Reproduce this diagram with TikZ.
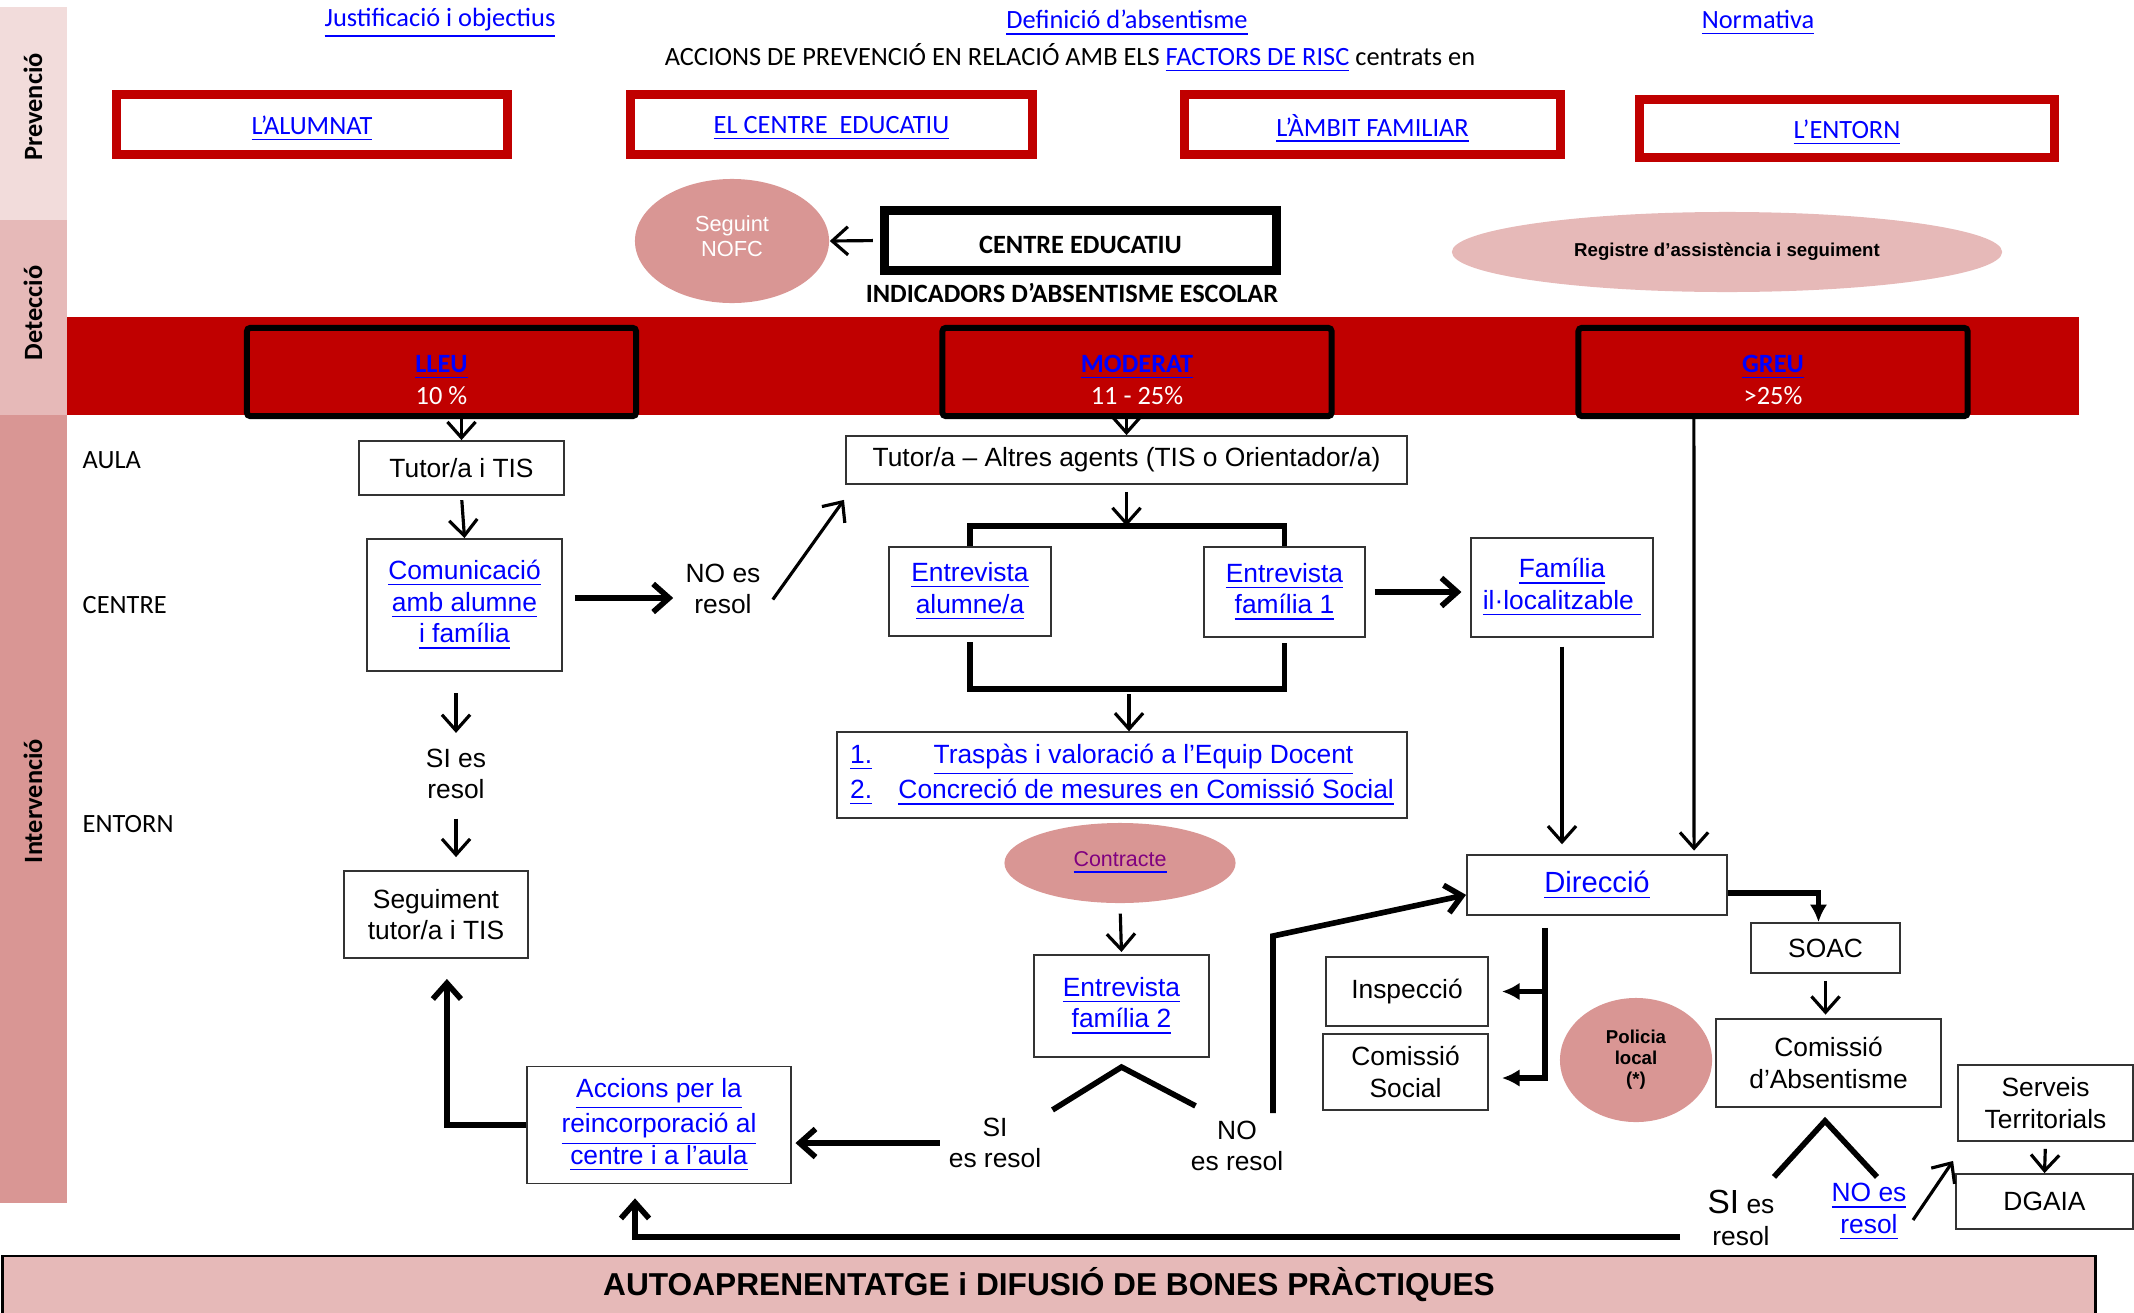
\documentclass[tikz,border=0pt]{standalone}
\usepackage{fontspec}
\setmainfont{Liberation Sans}
\newfontfamily\calibri{Carlito}
\usepackage{tikz}
\usetikzlibrary{shapes,arrows,arrows.meta}
\usetikzlibrary{positioning}
\definecolor{linkblue}{RGB}{0,0,255}
\definecolor{visited}{RGB}{128,0,128}
\definecolor{darkred}{RGB}{192,0,0}
\definecolor{prevpink}{RGB}{242,220,219}
\definecolor{detpink}{RGB}{230,185,184}
\definecolor{intpink}{RGB}{217,150,148}
\newcommand{\lnk}[1]{\textcolor{linkblue}{\underline{#1}}}
\newcommand{\dropby}[2]{\raisebox{-#1}[\height][\depth]{#2}}
\newcommand{\boxfont}{\fontsize{7.5}{9}\selectfont}
\newcommand{\calfont}{\calibri\fontsize{7.5}{9}\selectfont}
\tikzstyle{prevbox} = [draw=darkred, line width=2.6pt, fill=white, font=\calfont]
\tikzstyle{bigbox} = [draw=black, line width=2.6pt, fill=white, font=\calfont\bfseries]
\tikzstyle{grade} = [draw=black, line width=1.7pt, fill=darkred, rounded corners=1pt, align=center, text=white, font=\calfont]
\tikzstyle{block} = [draw=black!80, line width=0.5pt, fill=white, align=center, font=\boxfont]
\tikzstyle{blob} = [ellipse, fill=intpink, align=center, inner sep=0pt]
\tikzstyle{plain} = [align=center, font=\boxfont]
\tikzstyle{zone} = [anchor=west, inner sep=0pt, font=\calfont]
\tikzstyle{band} = [rotate=90, font=\calfont\bfseries]
\tikzstyle{line} = [draw, line width=0.9pt]
\tikzstyle{thickline} = [draw, line width=1.6pt]

\begin{document}
\begin{tikzpicture}[auto, x=0.01cm, y=-0.01cm, >={Straight Barb[length=4.5pt,width=8pt]}]
  \useasboundingbox (0,0) rectangle (2134,1312);
  \fill [prevpink] (0,7) rectangle (67,220);
  \fill [detpink] (0,220) rectangle (67,415);
  \fill [intpink] (0,415) rectangle (67,1203);
  \fill [darkred] (67,317) rectangle (2079,415);
  \node [band, name=prev] at (33,107) {Prevenció};
  \node [band, name=det] at (33,313) {Detecció};
  \node [band, name=interv] at (33,801) {Intervenció};

  \node [font=\calfont, name=justif] at (440,23) {\lnk{Justificació i objectius}};
  \node [font=\calfont, name=definicio] at (1127,23) {\lnk{Definició d’absentisme}};
  \node [font=\calfont, name=normativa] at (1758,23) {\lnk{Normativa}};
  \node [font=\calfont, name=factors] at (1070,58) {ACCIONS DE PREVENCIÓ EN RELACIÓ AMB ELS \lnk{FACTORS DE RISC} centrats en};

  \node [prevbox, minimum width=3.91cm, minimum height=0.6cm, name=alumnat] at (312,124.5) {\dropby{1.2pt}{\lnk{L’ALUMNAT}}};
  \node [prevbox, minimum width=4.02cm, minimum height=0.6cm, name=centre] at (831.5,124.5) {\dropby{1.2pt}{\lnk{EL CENTRE\ \ EDUCATIU}}};
  \node [prevbox, minimum width=3.76cm, minimum height=0.6cm, name=familiar] at (1372.5,124.5) {\dropby{1.2pt}{\lnk{L’ÀMBIT FAMILIAR}}};
  \node [prevbox, minimum width=4.15cm, minimum height=0.58cm, name=entorn] at (1847,128.5) {\dropby{1.2pt}{\lnk{L’ENTORN}}};

  \node [blob, text=white, font=\fontsize{6.2}{7}\selectfont, minimum width=1.94cm, minimum height=1.24cm, name=seguint] at (732,241) {Seguint\\NOFC\rule[-2.8pt]{0pt}{2.8pt}};
  \node [bigbox, minimum width=3.92cm, minimum height=0.6cm, name=centreedu] at (1080.5,240.5) {\dropby{1.4pt}{CENTRE EDUCATIU}};
  \node [font=\calfont\bfseries, name=indicadors] at (1072,293) {INDICADORS D’ABSENTISME ESCOLAR};
  \node [blob, fill=detpink, font=\fontsize{5.3}{6}\selectfont\bfseries, minimum width=5.5cm, minimum height=0.8cm, name=registre] at (1727,252) {Registre d’assistència i seguiment};

  \node [grade, minimum width=3.89cm, minimum height=0.76cm, name=lleu] at (441.5,372) {\rule{0pt}{9.4pt}\lnk{\bfseries LLEU}\\10 \%};
  \node [grade, minimum width=3.89cm, minimum height=0.76cm, name=moderat] at (1137,372) {\rule{0pt}{9.4pt}\lnk{\bfseries MODERAT}\\11 - 25\%};
  \node [grade, minimum width=3.89cm, minimum height=0.76cm, name=greu] at (1773,372) {\rule{0pt}{9.4pt}\lnk{\bfseries GREU}\\>25\%};

  \node [zone, name=aula] at (82,460) {AULA};
  \node [zone, name=centrezone] at (82,605) {CENTRE};
  \node [zone, name=entornzone] at (82,824) {ENTORN};

  \node [block, minimum width=2.05cm, minimum height=0.54cm, name=tutor1] at (461.5,468) {Tutor/a i TIS};
  \node [block, minimum width=1.95cm, minimum height=1.32cm, name=comunic] at (464.5,605) {\lnk{Comunicació}\\\lnk{amb alumne}\\\lnk{i família}};
  \node [plain, name=nores1] at (723,589) {NO es\\resol};
  \node [plain, name=sires1] at (456,774) {SI es\\resol};
  \node [block, minimum width=1.84cm, minimum height=0.87cm, name=seguiment] at (436,914.5) {Seguiment\\tutor/a i TIS};
  \node [block, minimum width=2.64cm, minimum height=1.14cm, name=reincorp] at (659,1125) {\lnk{Accions per la}\\\lnk{reincorporació al}\\\lnk{centre i a l’aula}};

  \node [block, minimum width=5.61cm, minimum height=0.46cm, name=tutor2] at (1126.5,460) {Tutor/a – Altres agents (TIS o Orientador/a)};
  \node [block, minimum width=1.62cm, minimum height=0.89cm, name=entalumne] at (970,591.5) {\lnk{Entrevista}\\\lnk{alumne/a}};
  \node [block, minimum width=1.61cm, minimum height=0.9cm, name=entfam1] at (1284.5,592) {\lnk{Entrevista}\\\lnk{família 1}};
  \node [block, minimum width=1.8cm, minimum height=0.99cm, name=illoc] at (1562,587.5) {\lnk{Família}\\\lnk{il·localitzable\ }};
  \node [block, align=left, font=\fontsize{7.5}{8.5}\selectfont, minimum width=5.7cm, minimum height=0.78cm, name=traspas] at (1122,775) {\lnk{1.}\hspace{17.5pt}\lnk{Traspàs i valoració a l’Equip Docent}\\\lnk{2.}\hspace{7.5pt}\lnk{Concreció de mesures en Comissió Social}};
  \node [blob, font=\fontsize{6.1}{7}\selectfont, minimum width=2.31cm, minimum height=0.8cm, name=contracte] at (1120,863) {\textcolor{linkblue}{\underline{\textcolor{visited}{Contracte}}}};
  \node [block, minimum width=1.75cm, minimum height=1.02cm, name=entfam2] at (1121.5,1006) {\lnk{Entrevista}\\\lnk{família 2}};
  \node [plain, name=sires2] at (995,1143) {SI\\es resol};
  \node [plain, name=nores2] at (1237,1146) {NO\\es resol};

  \node [block, font=\fontsize{8.3}{9}\selectfont, minimum width=2.6cm, minimum height=0.6cm, name=direccio] at (1597,885) {\lnk{Direcció}};
  \node [block, minimum width=1.49cm, minimum height=0.5cm, name=soac] at (1825.5,948) {SOAC};
  \node [block, minimum width=2.25cm, minimum height=0.88cm, name=comabs] at (1828.5,1063) {Comissió\\d’Absentisme};
  \node [block, minimum width=1.62cm, minimum height=0.69cm, name=inspeccio] at (1407,991.5) {Inspecció};
  \node [block, minimum width=1.65cm, minimum height=0.76cm, name=comsoc] at (1405.5,1072) {Comissió\\Social};
  \node [blob, font=\fontsize{5.3}{6}\selectfont\bfseries, minimum width=1.52cm, minimum height=1.24cm, name=policia] at (1636,1060) {Policia\\local\\(*)};
  \node [plain, name=sires3] at (1741,1218) {{\fontsize{9.5}{9}\selectfont SI} es\\resol};
  \node [plain, name=nores3] at (1869,1212) {\lnk{NO es}\\\lnk{resol}};
  \node [block, minimum width=1.75cm, minimum height=0.76cm, name=serveis] at (2045.5,1103) {Serveis\\Territorials};
  \node [block, minimum width=1.77cm, minimum height=0.55cm, name=dgaia] at (2044.5,1201.5) {DGAIA};

  \node [draw=black, line width=0.8pt, fill=detpink, minimum width=20.92cm, minimum height=0.58cm, font=\fontsize{9}{10}\selectfont\bfseries, name=banner] at (1049,1285) {AUTOAPRENENTATGE i DIFUSIÓ DE BONES PRÀCTIQUES};

  \coordinate (topbar) at (1129,526);
  \coordinate (lowbar) at (1129,689);

  \draw [line,->, shorten <=2pt] (centreedu.west) -- (seguint.east);
  \draw [line,->] (tutor1.north |- lleu.south) -- (tutor1.north);
  \draw [line,->, shorten <=1.2pt] (tutor1.south) -- (comunic.north);
  \draw [thickline,->, shorten <=3.4pt] ([yshift=2pt]comunic.east) -- ([yshift=2pt]comunic.east -| nores1.west);
  \draw [line,->] ([yshift=-3pt]nores1.east) -- ([shift={(-1,15)}]tutor2.south west);
  \draw [line,->, shorten <=6pt, shorten >=1pt] (sires1.north |- comunic.south) -- (sires1.north);
  \draw [line,->, shorten <=2pt, shorten >=3.7pt] (sires1.south) -- (sires1.south |- seguiment.north);
  \draw [thickline,->, shorten >=5.7pt] (reincorp.west) -| ([xshift=3.1pt]seguiment.south);

  \draw [line,->] (tutor2.north |- moderat.south) -- (tutor2.north);
  \draw [line,->, shorten <=2pt] (tutor2.south) -- (tutor2.south |- topbar);
  \draw [thickline] (entalumne.north) |- (topbar) -| (entfam1.north);
  \draw [thickline, shorten <=1.5pt, shorten >=1.5pt] (entalumne.south) |- (lowbar) -| (entfam1.south);
  \draw [line,->, shorten <=1.5pt] (lowbar) -- (lowbar |- traspas.north);
  \draw [thickline,->, shorten <=2.5pt, shorten >=2.5pt] (entfam1.east) -- (entfam1.east -| illoc.west);
  \draw [line,->, shorten <=2.5pt, shorten >=2.8pt] (illoc.south) -- (illoc.south |- direccio.north);
  \draw [line,->, shorten >=1pt] ([xshift=-22.5pt]greu.south) -- ([xshift=27.6pt]direccio.north);

  \draw [line,->, shorten <=2.8pt, shorten >=0.6pt] (contracte.south) -- (entfam2.north);
  \draw [thickline] ([shift={(-69,52)}]entfam2.south) -- ([yshift=-2.6pt]entfam2.south) -- ([shift={(74,48)}]entfam2.south);
  \draw [thickline,->] ([xshift=1pt]sires2.west) -- ([xshift=1pt]sires2.west -| reincorp.east);
  \draw [thickline,->] ([shift={(36,-33)}]nores2.center) -- ++(0,-177) -- ([yshift=-2.8pt]direccio.west);

  \draw [thickline,-{Latex[length=5pt,width=5pt]}] ([yshift=-2.3pt]direccio.east) -| ([xshift=-2pt]soac.north);
  \draw [thickline] ([shift={(-52,12)}]direccio.south) coordinate (spine) -- ++(0,153);
  \draw [thickline,-{Latex[length=5pt,width=5pt]}] (spine |- inspeccio.east) -- ([xshift=3.7pt]inspeccio.east);
  \draw [thickline,-{Latex[length=5pt,width=5pt]}] ([yshift=-1.7pt]spine |- comsoc.east) -- ([shift={(13,6)}]comsoc.east);
  \draw [line,->, shorten <=2pt, shorten >=1pt] (soac.south) -- (soac.south |- comabs.north);
  \draw [thickline] ([shift={(-54.5,69)}]comabs.south) -- ([shift={(-3.5,13)}]comabs.south) -- ([shift={(48.5,69)}]comabs.south);
  \draw [line,->] ([shift={(44,8)}]nores3.center) -- ([shift={(-4,19)}]serveis.south west);
  \draw [line,->, shorten <=2pt] (serveis.south) -- (dgaia.north);
  \draw [thickline,->] ([shift={(-61,19)}]sires3.center) -| ([shift={(-24,14)}]reincorp.south);
\end{tikzpicture}
\end{document}
